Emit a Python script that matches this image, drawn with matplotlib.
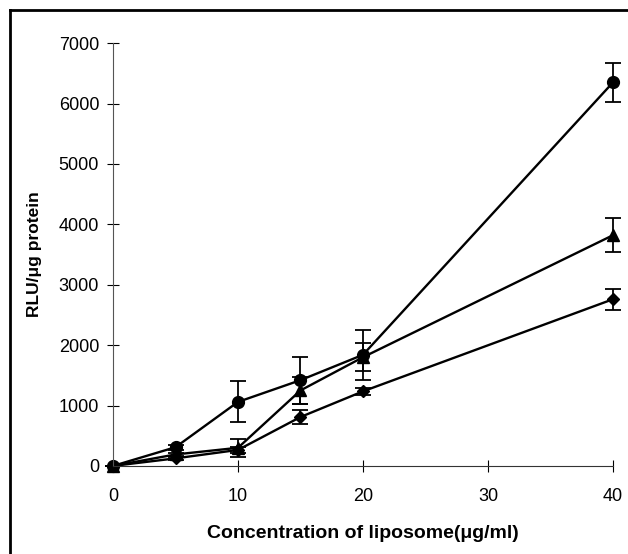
import matplotlib.pyplot as plt
from matplotlib.lines import Line2D

plt.rcParams['font.family'] = ['Liberation Sans', 'DejaVu Sans']

conc = [0, 5, 10, 15, 20, 40]

# circles
circ = [0, 310, 1060, 1420, 1840, 6350]
circ_err = [0, 40, 340, 390, 410, 320]
# triangles
tri = [0, 190, 300, 1250, 1800, 3820]
tri_err = [0, 30, 150, 220, 230, 280]
# diamonds
dia = [0, 125, 265, 810, 1235, 2760]
dia_err = [0, 30, 50, 110, 60, 170]

fig = plt.figure(figsize=(6.28, 5.54), dpi=100)
ax = fig.add_axes([0.18, 0.159, 0.796, 0.763])

for y, e, m, ms in [(circ, circ_err, 'o', 8.5), (tri, tri_err, '^', 8.5), (dia, dia_err, 'D', 6.5)]:
    ax.errorbar(conc, y, yerr=e, color='black', marker=m, markersize=ms, lw=1.7,
                elinewidth=1.3, capsize=6, capthick=1.3, clip_on=False)

ax.set_xlim(0, 40)
ax.set_ylim(0, 7000)
ax.set_xticks([0, 10, 20, 30, 40])
ax.set_yticks(range(0, 7001, 1000))
ax.spines['top'].set_visible(False)
ax.spines['right'].set_visible(False)
ax.spines['left'].set_color('#555555')
ax.spines['left'].set_linewidth(0.8)
ax.spines['bottom'].set_color('#333333')
ax.spines['bottom'].set_linewidth(0.8)
ax.tick_params(direction='inout', length=8, width=0.8, labelsize=13)
ax.tick_params(axis='y', pad=6)
ax.tick_params(axis='x', pad=12)
ax.set_xlabel('Concentration of liposome(\u03bcg/ml)', fontsize=14, fontweight='bold', labelpad=14)
ax.set_ylabel('RLU/\u03bcg protein', fontsize=12.5, fontweight='bold', labelpad=12)

# frame lines on top and left of the figure
fig.add_artist(Line2D([10 / 628, 1], [1 - 10 / 554, 1 - 10 / 554], color='black', lw=2, transform=fig.transFigure))
fig.add_artist(Line2D([10 / 628, 10 / 628], [0, 1 - 10 / 554], color='black', lw=2, transform=fig.transFigure))

fig.savefig('out.png', dpi=100)
